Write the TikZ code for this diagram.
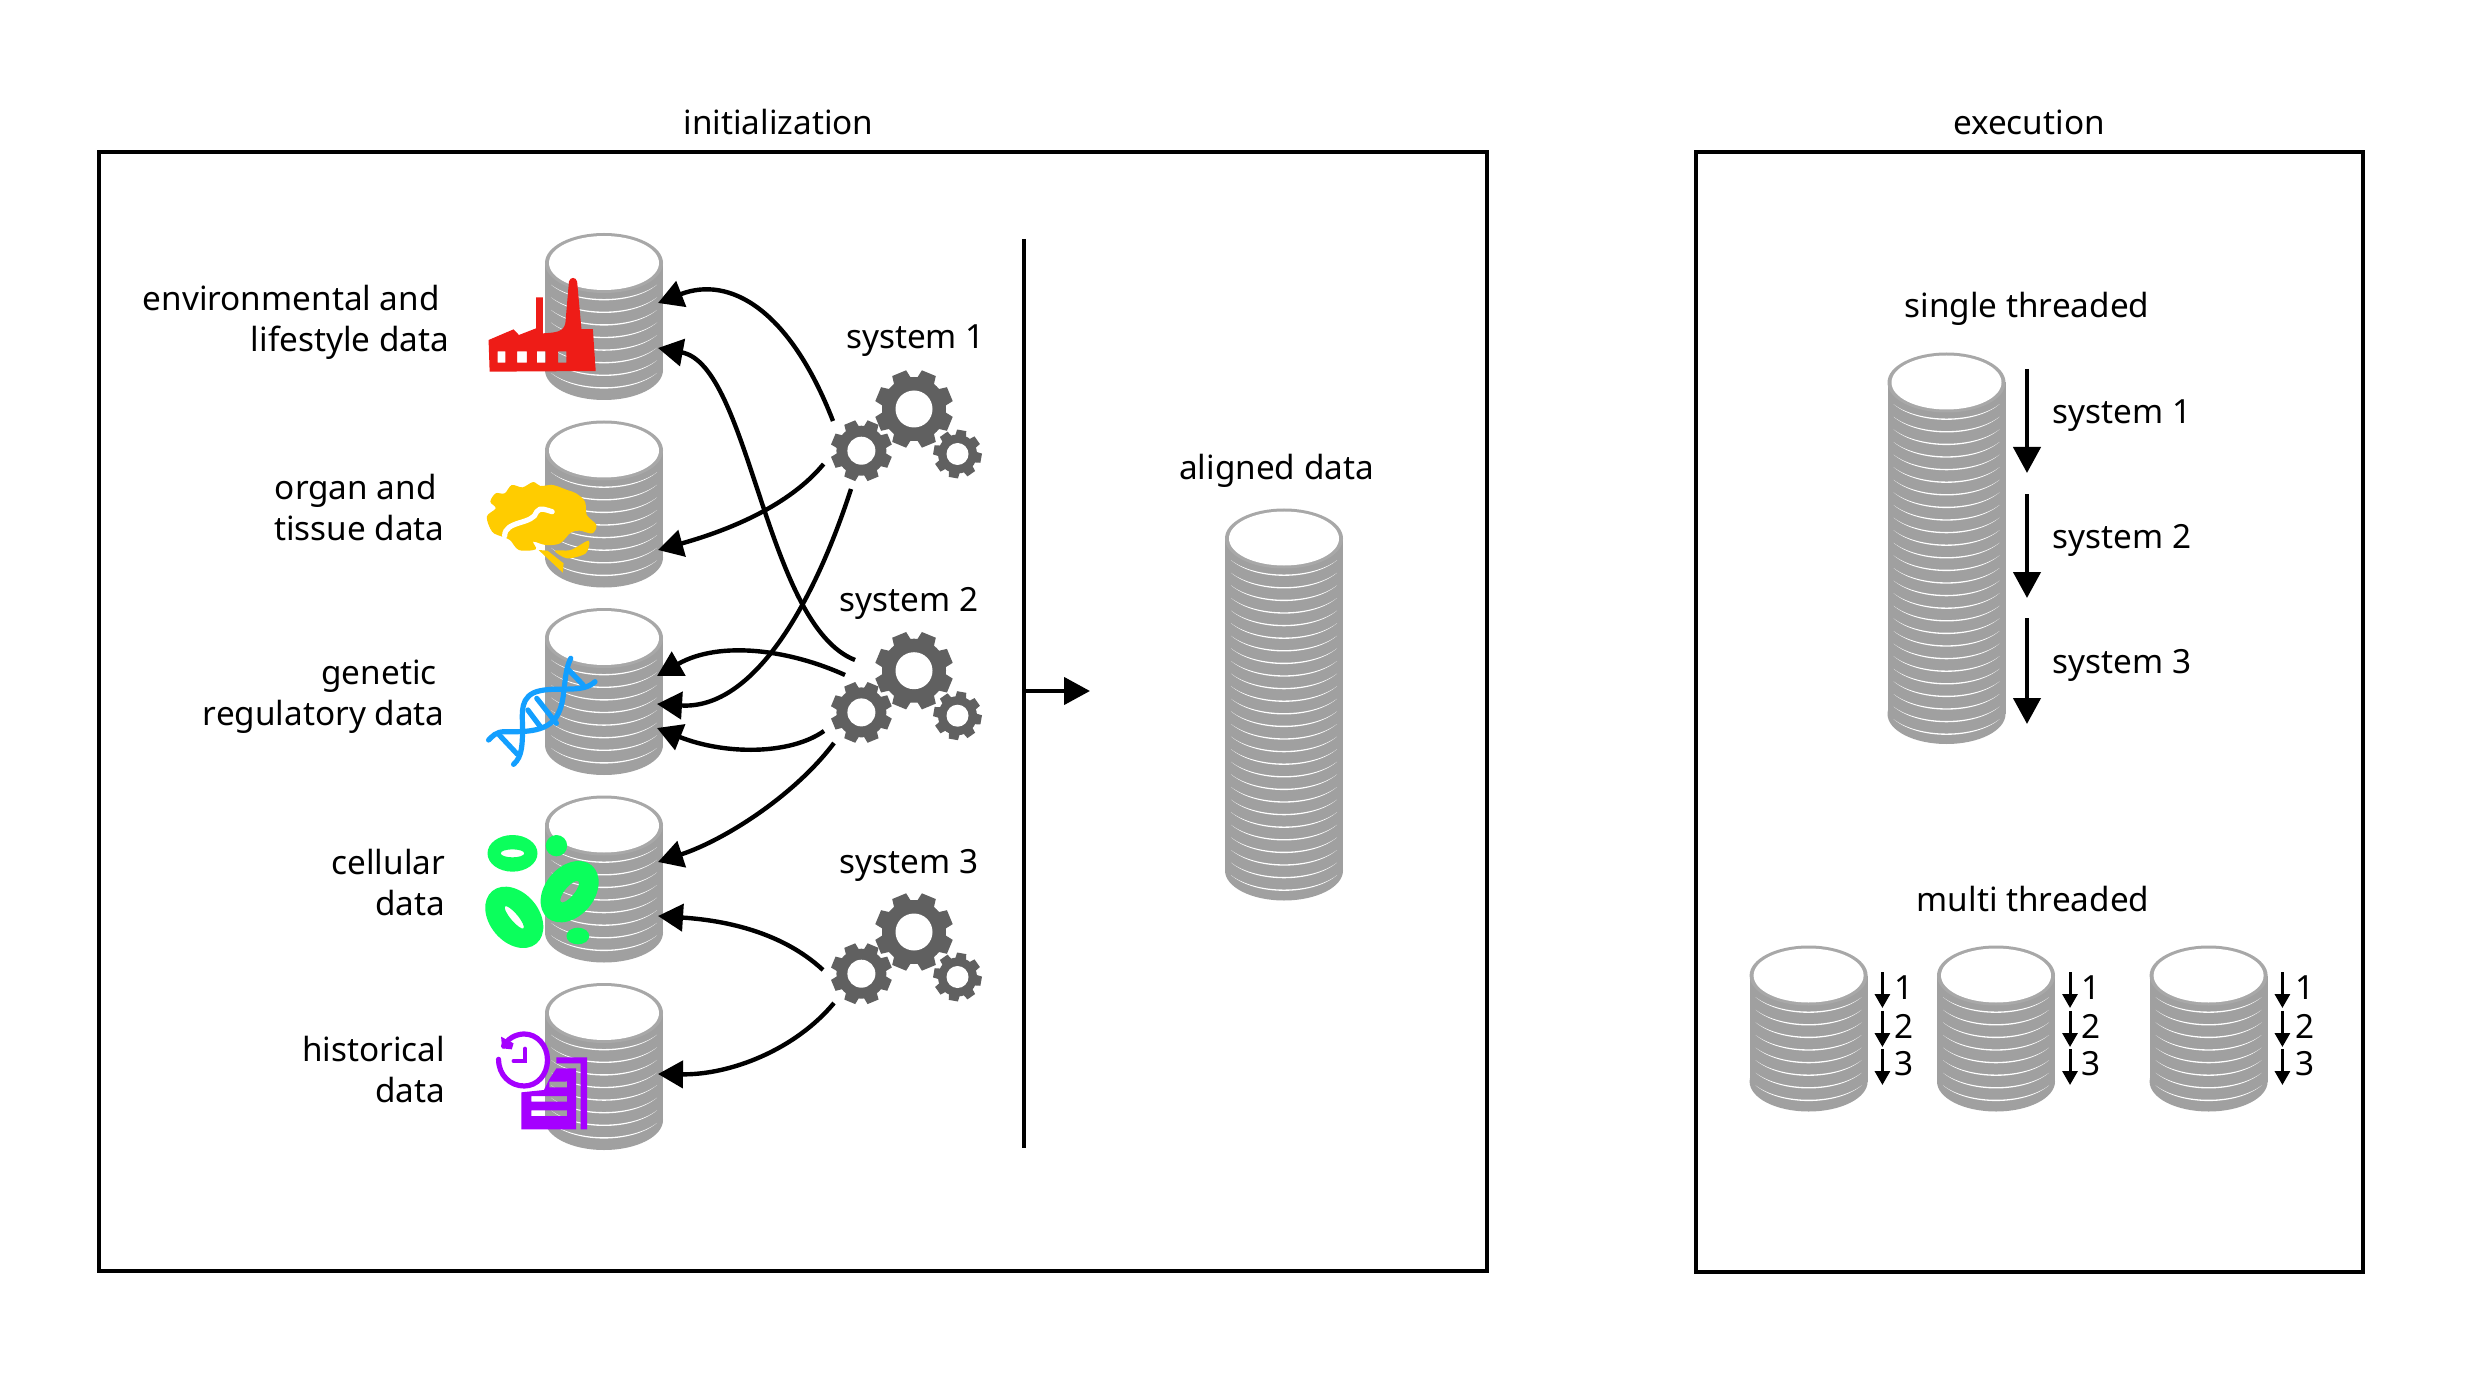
\documentclass[tikz,border=0pt]{standalone}
\usepackage{fontspec}
\setmainfont{Noto Sans}
\usetikzlibrary{arrows.meta}
\definecolor{dbgray}{HTML}{A0A0A0}
\definecolor{dbrim}{HTML}{A8A8A8}
\definecolor{gearc}{HTML}{606060}
\definecolor{facred}{HTML}{EE1C17}
\definecolor{brainy}{HTML}{FFCC00}
\definecolor{dnab}{HTML}{139FFF}
\definecolor{cellg}{HTML}{0BFF5C}
\definecolor{histp}{HTML}{A500FF}
\tikzset{
  frame/.style={draw=black,line width=2.2pt,fill=none},
  lbl/.style={inner sep=0pt,font=\fontsize{16.65}{20.5}\selectfont,text=black},
  lblr/.style={lbl,align=right,anchor=east},
  conn/.style={line width=2.2pt,-{Triangle[length=12.5pt,width=13.5pt]}},
  bigarrow/.style={line width=2.2pt,-{Triangle[length=13pt,width=13.5pt]}},
  smallarrow/.style={line width=1.5pt,-{Triangle[length=7pt,width=7.5pt]}},
  iconz1/.style={shift={(460,210)},x=0.17857pt,y=-0.16667pt},
  iconz2/.style={shift={(460,600)},x=0.17857pt,y=-0.16667pt},
  iconz4/.style={shift={(460,960)},x=0.17857pt,y=-0.16667pt},
}
\newcommand{\dbcyl}[4]{% cx, cy, bottom, n
  \fill[dbgray] (#1-59,#2) rectangle (#1+59,#3-30);
  \fill[dbgray] (#1,#3-30) ellipse[x radius=59,y radius=30];
  \foreach \k in {1,...,#4}{
    \pgfmathsetmacro{\bb}{#2+37.7+12.6*(\k-1)}
    \fill[white] (#1-53,\bb-16) .. controls (#1-28,\bb+4.9) and (#1+28,\bb+4.9) .. (#1+53,\bb-16)
       .. controls (#1+28,\bb+3.1) and (#1-28,\bb+3.1) .. cycle;
  }
  \fill[dbrim] (#1,#2) ellipse[x radius=59,y radius=30];
  \fill[white] (#1,#2) ellipse[x radius=55,y radius=27];
}
\newcommand{\onegear}[6]{% x,y,R,r0,hole,rot
  \begin{scope}[shift={(#1,#2)}]
  \fill[gearc] (0,0) circle[radius=#4];
  \foreach \t in {0,...,7}{
    \pgfmathsetmacro{\a}{#6+45*\t}
    \fill[gearc] ({\a-17}:{#4-1}) -- ({\a-11}:#3) -- ({\a+11}:#3) -- ({\a+17}:{#4-1}) -- cycle;
  }
  \fill[white] (0,0) circle[radius=#5];
  \end{scope}
}
\newcommand{\gearset}[2]{%
  \onegear{#1}{#2}{39.5}{32}{18.5}{22.5}
  \onegear{#1-52.6}{#2+41.7}{31}{25}{14}{22.5}
  \onegear{#1+43.5}{#2+45}{24.5}{19.5}{11}{10}
}
\newcommand{\gapr}[1]{\hbox to #1{}}
\begin{document}
\begin{tikzpicture}[x=0.5pt,y=-0.5pt]
\useasboundingbox (0,0) rectangle (2485,1390);
\fill[white] (0,0) rectangle (2485,1390);

% frames
\draw[frame] (99,152) rectangle (1487,1271);
\draw[frame] (1696,152) rectangle (2363,1272);
\node[lbl] (tinit) at (778.5,122) {initialization};
\node[lbl] (texec) at (2029,122) {execution};

% source databases
\dbcyl{604}{263}{400}{8}
\dbcyl{604}{450.5}{587.5}{8}
\dbcyl{604}{638}{775}{8}
\dbcyl{604}{825.5}{962.5}{8}
\dbcyl{604}{1013}{1150}{8}

% factory
\begin{scope}[iconz1]
\fill[facred,even odd rule] (80,390) -- (150,358) -- (165,375) -- (213,355) -- (213,262) -- (232,262) -- (232,370)
  .. controls (270,368) and (290,365) .. (295,340) -- (305,215) .. controls (308,200) and (325,200) .. (328,215) -- (340,357) -- (372,357) -- (380,483) -- (83,485) -- cycle
  (105,424) rectangle (127,458) (160,424) rectangle (187,458) (215,424) rectangle (240,458) (275,424) rectangle (298,458);
\end{scope}

% brain
\begin{scope}[iconz1]
\fill[brainy] plot[smooth cycle,tension=0.55] coordinates {(100,850)(125,850)(145,825)(175,832)(205,816)(225,828)(260,825)(300,840)(325,850)(350,875)(355,915)(382,945)(370,970)(335,962)(310,968)(280,1000)(240,1005)(205,995)(212,1018)(165,1020)(140,990)(118,980)(90,965)(75,920)(100,895)(85,875)};
\draw[white,line width=2.6pt,line cap=round] (125,978) .. controls (125,930) and (205,945) .. (215,905) .. controls (225,890) and (240,900) .. (258,905);
\fill[brainy] plot[smooth cycle,tension=0.5] coordinates {(265,1022)(310,1020)(360,992)(352,1030)(300,1045)};
\fill[brainy] (220,1020) -- (245,1022) -- (290,1060) -- (288,1088) -- (240,1040) -- cycle;
\end{scope}

% DNA
\begin{scope}[iconz2,line width=2.6pt,draw=dnab,line cap=round]
\draw (310,175) .. controls (285,230) and (300,300) .. (270,350) .. controls (240,400) and (170,395) .. (125,395) .. controls (100,395) and (90,410) .. (80,420);
\draw (378,245) .. controls (345,280) and (280,260) .. (225,272) .. controls (165,285) and (175,340) .. (175,380) .. controls (175,430) and (175,470) .. (150,493);
\draw (300,205) -- (345,255);
\draw (215,295) -- (270,370);
\draw (190,330) -- (225,380);
\draw (110,405) -- (160,462);
\end{scope}

% cells
\begin{scope}[iconz2]
\fill[cellg,even odd rule] (147,760) ellipse[x radius=70,y radius=55] (147,760) ellipse[x radius=33,y radius=12];
\begin{scope}[shift={(152,952)},rotate=-50]
\fill[cellg,even odd rule] (0,0) ellipse[x radius=96,y radius=74] (0,0) ellipse[x radius=40,y radius=11];
\end{scope}
\begin{scope}[shift={(307,875)},rotate=50]
\fill[cellg,even odd rule] (0,0) ellipse[x radius=96,y radius=74] (0,0) ellipse[x radius=38,y radius=14];
\end{scope}
\fill[cellg] (270,737) ellipse[x radius=30,y radius=32];
\fill[cellg] (330,1008) ellipse[x radius=32,y radius=25];
\end{scope}

% history
\begin{scope}[iconz4]
\draw[histp,line width=2.6pt,line cap=round] (122,258) .. controls (140,225) and (170,222) .. (180,222) .. controls (215,222) and (245,255) .. (245,300) .. controls (245,345) and (215,378) .. (180,378) .. controls (140,378) and (108,345) .. (108,298);
\fill[histp] (115,230) -- (150,250) -- (145,268) -- (118,265) -- cycle;
\draw[histp,line width=2pt,line cap=round] (182,266) -- (182,303) -- (150,303);
\fill[histp,even odd rule] (172,397) -- (235,390) -- (250,358) -- (270,325) -- (325,325) -- (325,508) -- (172,508) -- cycle
  (200,408) rectangle (300,425) (200,451) rectangle (300,468) (250,365) rectangle (300,382);
\fill[histp] (270,292) -- (356,292) -- (356,508) -- (338,508) -- (338,310) -- (270,310) -- cycle;
\end{scope}

% gears
\gearset{914}{409}
\gearset{914}{670.7}
\gearset{914}{932}

% labels
\node[lblr] (l1) at (449.6,322.5) {environmental and\gapr{4.75pt}\\lifestyle data};
\node[lblr] (l2) at (445,507.5) {organ and\gapr{4pt}\\tissue data};
\node[lblr] (l3) at (445,697) {genetic\gapr{4pt}\\regulatory data};
\node[lblr] (l4) at (445.5,882.5) {cellular\\data};
\node[lblr] (l5) at (445.5,1070) {historical\\data};
\node[lbl] (s1) at (915.5,341) {system 1};
\node[lbl] (s2) at (909,603) {system 2};
\node[lbl] (s3) at (909,865) {system 3};

% connector end points
\coordinate (g1a) at (833,421);
\coordinate (g1b) at (823.6,464);
\coordinate (g1c) at (851,489);
\coordinate (g2a) at (855,660);
\coordinate (g2b) at (845,675);
\coordinate (g2c) at (824,731);
\coordinate (g2d) at (834,743);
\coordinate (g3a) at (823,970);
\coordinate (g3b) at (834,1003);
\coordinate (d1a) at (658,303);
\coordinate (d1b) at (658,348);
\coordinate (d2a) at (658,550);
\coordinate (d3a) at (657,676);
\coordinate (d3b) at (657,704);
\coordinate (d3c) at (657,728);
\coordinate (d4a) at (658,862);
\coordinate (d4b) at (658,916);
\coordinate (d5a) at (658,1074);

\draw[conn] (g1a) .. controls (790,310) and (730,275) .. (d1a);
\draw[conn] (g2a) .. controls (765,625) and (750,365) .. (d1b);
\draw[conn] (g1b) .. controls (790,505) and (730,530) .. (d2a);
\draw[conn] (g1c) .. controls (815,600) and (755,710) .. (d3b);
\draw[conn] (g2b) .. controls (790,650) and (720,640) .. (d3a);
\draw[conn] (g2c) .. controls (790,755) and (725,755) .. (d3c);
\draw[conn] (g2d) .. controls (795,795) and (725,840) .. (d4a);
\draw[conn] (g3a) .. controls (780,930) and (720,920) .. (d4b);
\draw[conn] (g3b) .. controls (795,1050) and (730,1075) .. (d5a);

% separator and output arrow
\coordinate (sepa) at (1024,239);
\coordinate (sepb) at (1024,1148);
\coordinate (sepm) at (1024,691);
\coordinate (sepe) at (1090,691);
\draw[line width=2.2pt] (sepa) -- (sepb);
\draw[bigarrow] (sepm) -- (sepe);

% aligned data
\node[lbl] (talign) at (1276.5,471) {aligned data};
\dbcyl{1284}{538.5}{900.5}{26}

% single threaded
\node[lbl] (tsingle) at (2027,309) {single threaded};
\dbcyl{1946.5}{382.5}{744}{26}
\coordinate (a1s) at (2027,369); \coordinate (a1e) at (2027,473);
\coordinate (a2s) at (2027,494.5); \coordinate (a2e) at (2027,598);
\coordinate (a3s) at (2027,618); \coordinate (a3e) at (2027,724);
\draw[bigarrow] (a1s) -- (a1e);
\draw[bigarrow] (a2s) -- (a2e);
\draw[bigarrow] (a3s) -- (a3e);
\node[lbl,anchor=west] (st1) at (2052.5,416) {system 1};
\node[lbl,anchor=west] (st2) at (2052.5,540) {system 2};
\node[lbl,anchor=west] (st3) at (2052.5,665.5) {system 3};

% multi threaded
\node[lbl] (tmulti) at (2033,899) {multi threaded};
\dbcyl{1808.6}{975.5}{1111.5}{8}
\dbcyl{1996}{975.5}{1111.5}{8}
\dbcyl{2208.6}{975.5}{1111.5}{8}
\foreach \ax/\nx/\id in {1882.4/1904.5/a,2070/2091.5/b,2282.4/2304.5/c}{
  \coordinate (m\id1s) at (\ax,972); \coordinate (m\id1e) at (\ax,1008);
  \coordinate (m\id2s) at (\ax,1011); \coordinate (m\id2e) at (\ax,1047);
  \coordinate (m\id3s) at (\ax,1049); \coordinate (m\id3e) at (\ax,1085);
  \draw[smallarrow] (m\id1s) -- (m\id1e);
  \draw[smallarrow] (m\id2s) -- (m\id2e);
  \draw[smallarrow] (m\id3s) -- (m\id3e);
  \node[lbl] (n\id1) at (\nx,988) {1};
  \node[lbl] (n\id2) at (\nx,1026) {2};
  \node[lbl] (n\id3) at (\nx,1064) {3};
}
\end{tikzpicture}
\end{document}
